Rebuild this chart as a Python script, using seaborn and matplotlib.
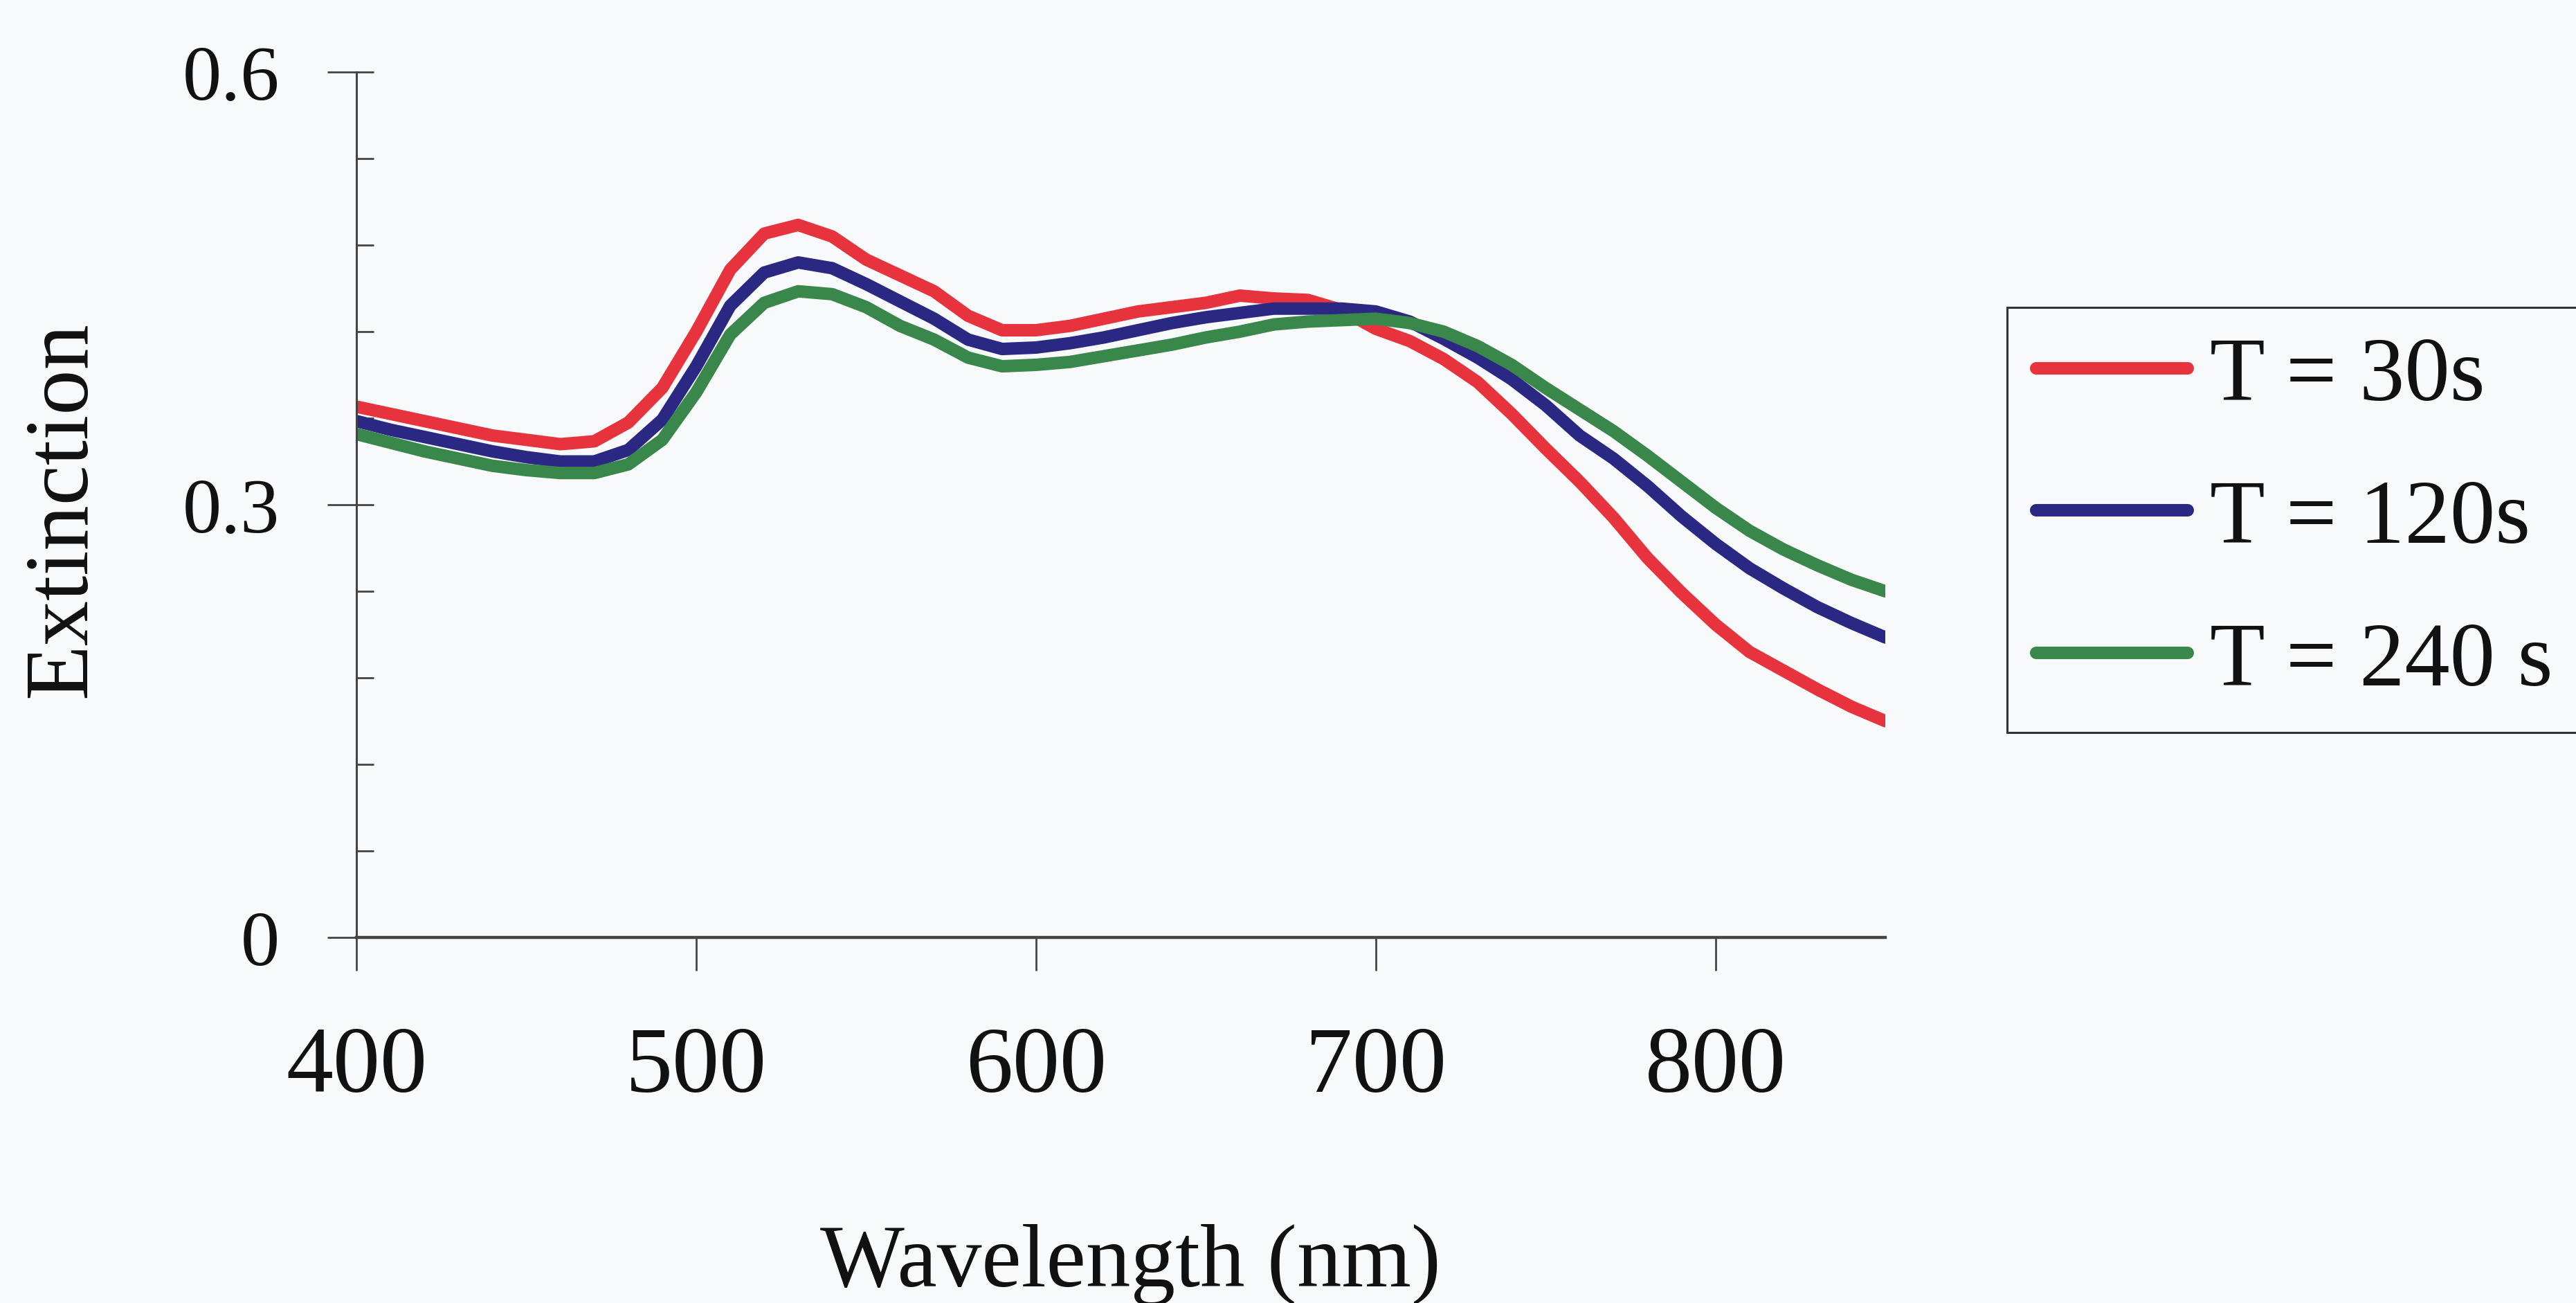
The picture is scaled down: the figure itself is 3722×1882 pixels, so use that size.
import numpy as np
import pandas as pd
import matplotlib
matplotlib.use("Agg")
import matplotlib.pyplot as plt
from matplotlib.ticker import FixedLocator, MultipleLocator
import seaborn as sns

# ---- data ----
wavelength = [400, 410, 420, 430, 440, 450, 460, 470, 480, 490,
              500, 510, 520, 530, 540, 550, 560, 570, 580, 590,
              600, 610, 620, 630, 640, 650, 660, 670, 680, 690,
              700, 710, 720, 730, 740, 750, 760, 770, 780, 790,
              800, 810, 820, 830, 840, 850]
ext_30s = [0.368, 0.363, 0.358, 0.353, 0.348, 0.345, 0.342, 0.344, 0.357, 0.381,
           0.420, 0.463, 0.488, 0.494, 0.486, 0.470, 0.459, 0.448, 0.431, 0.421,
           0.421, 0.424, 0.429, 0.434, 0.437, 0.440, 0.445, 0.443, 0.442, 0.435,
           0.422, 0.4135, 0.401, 0.385, 0.363, 0.339, 0.316, 0.291, 0.263, 0.239,
           0.217, 0.198, 0.185, 0.172, 0.160, 0.150]
ext_120s = [0.358, 0.352, 0.347, 0.342, 0.337, 0.333, 0.330, 0.330, 0.338, 0.359,
            0.396, 0.438, 0.461, 0.468, 0.464, 0.453, 0.441, 0.429, 0.4145, 0.408,
            0.409, 0.412, 0.416, 0.421, 0.426, 0.430, 0.433, 0.436, 0.436, 0.436,
            0.434, 0.427, 0.415, 0.402, 0.387, 0.369, 0.348, 0.332, 0.313, 0.292,
            0.273, 0.256, 0.242, 0.229, 0.218, 0.208]
ext_240s = [0.349, 0.343, 0.337, 0.332, 0.327, 0.324, 0.322, 0.322, 0.328, 0.345,
            0.378, 0.418, 0.440, 0.448, 0.446, 0.437, 0.424, 0.4145, 0.402, 0.396,
            0.397, 0.399, 0.403, 0.407, 0.411, 0.416, 0.420, 0.425, 0.427, 0.428,
            0.429, 0.426, 0.420, 0.410, 0.397, 0.381, 0.366, 0.351, 0.334, 0.316,
            0.298, 0.282, 0.269, 0.258, 0.248, 0.240]
series_labels = ["T = 30s", "T = 120s", "T = 240 s"]
series_colors = ["#E6333D", "#2A2882", "#3A874B"]
x_ticks = [400, 500, 600, 700, 800]
y_ticks = [0, 0.3, 0.6]
y_tick_labels = ["0", "0.3", "0.6"]

# ---- style ----
sns.set_theme(style="white")
plt.rcParams["font.family"] = ["Liberation Serif", "DejaVu Serif"]
bg = "#f8f9fb"

df = pd.DataFrame({
    "Wavelength": wavelength * 3,
    "Extinction": ext_30s + ext_120s + ext_240s,
    "Series": [s for s in series_labels for _ in wavelength],
})

fig = plt.figure(figsize=(37.22, 18.83), dpi=100, facecolor=bg)
ax = fig.add_axes([0.1384, 0.2804, 0.5935, 0.6638])
ax.set_facecolor(bg)

sns.lineplot(data=df, x="Wavelength", y="Extinction", hue="Series",
             hue_order=series_labels,
             palette=dict(zip(series_labels, series_colors)),
             linewidth=13, estimator=None, sort=False, ax=ax)
for ln in ax.get_lines():
    ln.set_solid_joinstyle("round")

ax.set_xlim(400, 850)
ax.set_ylim(0, 0.6)
sns.despine(ax=ax)
for side in ["left", "bottom"]:
    ax.spines[side].set_color("#444444")
ax.spines["left"].set_linewidth(2.2)
ax.spines["bottom"].set_linewidth(3.2)

ax.xaxis.set_major_locator(FixedLocator(x_ticks))
ax.yaxis.set_major_locator(FixedLocator(y_ticks))
ax.set_yticklabels(y_tick_labels)
ax.yaxis.set_minor_locator(MultipleLocator(0.06))
ax.yaxis.remove_overlapping_locs = False

ax.tick_params(axis="x", which="major", direction="out", length=34.5, width=2,
               color="#444444", labelsize=98, pad=57, labelcolor="#111111",
               bottom=True)
ax.tick_params(axis="y", which="major", direction="out", length=30, width=2,
               color="#444444", labelsize=81, pad=50, labelcolor="#111111",
               left=True)
ax.tick_params(axis="y", which="minor", direction="in", length=18, width=2,
               color="#444444", left=True)

ax.set_xlabel("Wavelength (nm)", fontsize=93, color="#111111", va="center")
ax.set_ylabel("Extinction", fontsize=94, color="#111111", va="center")
ax.xaxis.set_label_coords(0.506, -0.378)
ax.yaxis.set_label_coords(-0.192, 0.495)

handles, labels = ax.get_legend_handles_labels()
ax.get_legend().remove()
leg = fig.legend(handles, labels, loc="upper left",
                 bbox_to_anchor=(0.7792, 0.7637), bbox_transform=fig.transFigure,
                 frameon=True, fancybox=False, shadow=False, framealpha=1,
                 facecolor=bg, edgecolor="#333333", fontsize=94,
                 handlelength=1.68, handletextpad=0.24, borderpad=0.32,
                 labelspacing=0.66, borderaxespad=0)
leg.get_frame().set_linewidth(2.2)
for line in leg.get_lines():
    line.set_linewidth(13)
    line.set_solid_capstyle("round")
for t in leg.get_texts():
    t.set_color("#111111")

fig.savefig("out.png", dpi=100, facecolor=bg)
